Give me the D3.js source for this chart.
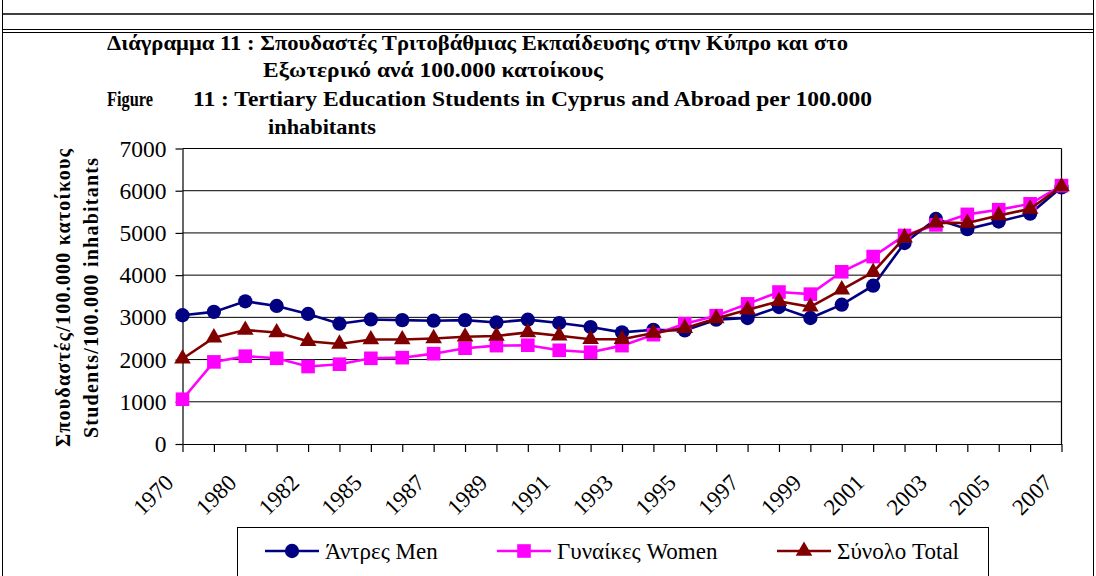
<!DOCTYPE html>
<html lang="el">
<head>
<meta charset="UTF-8">
<title>Διάγραμμα 11</title>
<script src="https://d3js.org/d3.v7.min.js"></script>
<style>
  body { margin: 0; background: #fff; }
  svg text { font-family: 'Times New Roman', 'Liberation Serif', serif; fill: #000; }
</style>
</head>
<body>
<div id="chart"></div>
<script>
// categories (every other one is labelled on the axis)
const years = ["1970","1975","1980","1981","1982","1983","1985","1986","1987","1988",
               "1989","1990","1991","1992","1993","1994","1995","1996","1997","1998",
               "1999","2000","2001","2002","2003","2004","2005","2006","2007"];

// students per 100.000 inhabitants
const men   = [3050,3130,3380,3270,3080,2850,2950,2935,2920,2935,2880,2945,2865,2770,2645,
               2705,2690,2945,2985,3245,2985,3300,3750,4760,5330,5090,5270,5455,6080];
const women = [1060,1945,2080,2030,1835,1890,2030,2045,2140,2270,2330,2340,2220,2175,2330,
               2590,2850,3040,3320,3600,3550,4080,4440,4940,5190,5440,5550,5690,6120];
const total = [2020,2520,2700,2640,2435,2370,2475,2475,2500,2540,2560,2645,2565,2480,2480,
               2630,2745,2975,3180,3380,3250,3655,4070,4890,5245,5235,5415,5570,6100];

const yTicks = [0,1000,2000,3000,4000,5000,6000,7000];
const seriesNames = ["Άντρες Men", "Γυναίκες Women", "Σύνολο Total"];

const W = 1096, H = 576;
const pLeft = 182.5, pRight = 1061.5, pTop = 148.5, pBottom = 444;
const serif = "'Times New Roman', 'Liberation Serif', serif";

const svg = d3.select("#chart").append("svg")
    .attr("width", W).attr("height", H);

// page frame
svg.append("line").attr("x1", 3).attr("x2", 1093).attr("y1", 14).attr("y2", 14)
   .attr("stroke", "#000").attr("stroke-width", 1.5);
svg.append("line").attr("x1", 3).attr("x2", 1093).attr("y1", 29.5).attr("y2", 29.5)
   .attr("stroke", "#000").attr("stroke-width", 1);
svg.append("line").attr("x1", 3).attr("x2", 1093).attr("y1", 32.5).attr("y2", 32.5)
   .attr("stroke", "#000").attr("stroke-width", 1);
svg.append("line").attr("x1", 2.5).attr("x2", 2.5).attr("y1", 0).attr("y2", H)
   .attr("stroke", "#000").attr("stroke-width", 1);
svg.append("line").attr("x1", 1093.5).attr("x2", 1093.5).attr("y1", 0).attr("y2", H)
   .attr("stroke", "#000").attr("stroke-width", 1);

// titles
const titles = [
  {t: "Διάγραμμα 11 :  Σπουδαστές Τριτοβάθμιας Εκπαίδευσης στην Κύπρο και στο", x: 107, y: 50, len: 741},
  {t: "Εξωτερικό  ανά 100.000  κατοίκους", x: 263, y: 77, len: 340},
  {t: "Figure", x: 107, y: 106, len: 46},
  {t: "11 :  Tertiary Education Students in Cyprus and Abroad per 100.000", x: 193, y: 106, len: 679},
  {t: "inhabitants", x: 268, y: 134, len: 108}
];
svg.selectAll("text.title").data(titles).enter().append("text")
   .attr("class", "title")
   .attr("x", d => d.x).attr("y", d => d.y)
   .attr("textLength", d => d.len).attr("lengthAdjust", "spacingAndGlyphs")
   .attr("font-family", serif)
   .style("font-size", "21px").style("font-weight", "bold")
   .text(d => d.t);

const x = d3.scalePoint().domain(years).range([pLeft, pRight]);
const y = d3.scaleLinear().domain([0, 7000]).range([pBottom, pTop]);

// gridlines
svg.append("g").selectAll("line").data(yTicks.slice(1)).enter().append("line")
   .attr("x1", pLeft).attr("x2", pRight)
   .attr("y1", d => y(d)).attr("y2", d => y(d))
   .attr("stroke", "#000").attr("stroke-width", 1);
svg.append("line").attr("x1", pRight).attr("x2", pRight).attr("y1", pTop).attr("y2", pBottom)
   .attr("stroke", "#000").attr("stroke-width", 1.2);

// y axis
const yAxis = svg.append("g")
   .attr("transform", "translate(" + pLeft + ",0)")
   .call(d3.axisLeft(y).tickValues(yTicks).tickFormat(d3.format("d"))
        .tickSize(7).tickPadding(9).tickSizeOuter(0));
yAxis.attr("font-family", serif).attr("font-size", 23.5);
yAxis.selectAll("text").attr("fill", "#000");
yAxis.selectAll("line, path").attr("stroke", "#000").attr("stroke-width", 1.2);

// x axis
const xAxis = svg.append("g")
   .attr("transform", "translate(0," + pBottom + ")")
   .call(d3.axisBottom(x).tickSize(8).tickSizeOuter(0)
        .tickFormat((d, i) => i % 2 === 0 ? d : ""));
xAxis.attr("font-family", serif).attr("font-size", 23);
xAxis.selectAll("line, path").attr("stroke", "#000").attr("stroke-width", 1.2);
xAxis.selectAll("text")
   .attr("y", 0).attr("dy", 0).attr("fill", "#000")
   .attr("transform", "translate(-8,40) rotate(-45)")
   .style("text-anchor", "end");

// y title
const yt = svg.append("g").attr("transform", "translate(0,298) rotate(-90)")
   .attr("font-family", serif);
yt.append("text").attr("x", 0).attr("y", 70).attr("text-anchor", "middle")
  .attr("textLength", 298).attr("lengthAdjust", "spacing")
  .style("font-size", "20px").style("font-weight", "bold")
  .text("Σπουδαστές/100.000 κατοίκους");
yt.append("text").attr("x", 0).attr("y", 98).attr("text-anchor", "middle")
  .attr("textLength", 280).attr("lengthAdjust", "spacing")
  .style("font-size", "20px").style("font-weight", "bold")
  .text("Students/100.000 inhabitants");

// series
const series = [
  {name: seriesNames[0], values: men,   color: "#000080", sym: d3.symbolCircle,   size: 160},
  {name: seriesNames[1], values: women, color: "#FF00FF", sym: d3.symbolSquare,   size: 185},
  {name: seriesNames[2], values: total, color: "#800000", sym: d3.symbolTriangle, size: 120}
];

const line = d3.line().x((d, i) => x(years[i])).y(d => y(d));

series.forEach(s => {
  const g = svg.append("g");
  g.append("path").datum(s.values)
   .attr("d", line).attr("fill", "none")
   .attr("stroke", s.color).attr("stroke-width", 2.6);
  g.selectAll("path.m").data(s.values).enter().append("path")
   .attr("class", "m")
   .attr("transform", (d, i) => "translate(" + x(years[i]) + "," + y(d) + ")")
   .attr("d", d3.symbol().type(s.sym).size(s.size)())
   .attr("fill", s.color);
});

// legend
const lg = svg.append("g").attr("font-family", serif);
lg.append("rect").attr("x", 237.5).attr("y", 527.5).attr("width", 751).attr("height", 60)
  .attr("fill", "#fff").attr("stroke", "#000").attr("stroke-width", 1);
const legX = [265, 497, 777];
series.forEach((s, i) => {
  const gx = legX[i], gy = 551;
  lg.append("line").attr("x1", gx).attr("x2", gx + 54).attr("y1", gy).attr("y2", gy)
    .attr("stroke", s.color).attr("stroke-width", 2.6);
  lg.append("path").attr("transform", "translate(" + (gx + 27) + "," + gy + ")")
    .attr("d", d3.symbol().type(s.sym).size(s.size)()).attr("fill", s.color);
  lg.append("text").attr("x", gx + 60).attr("y", gy + 8)
    .style("font-size", "23px").text(s.name);
});
</script>
</body>
</html>
